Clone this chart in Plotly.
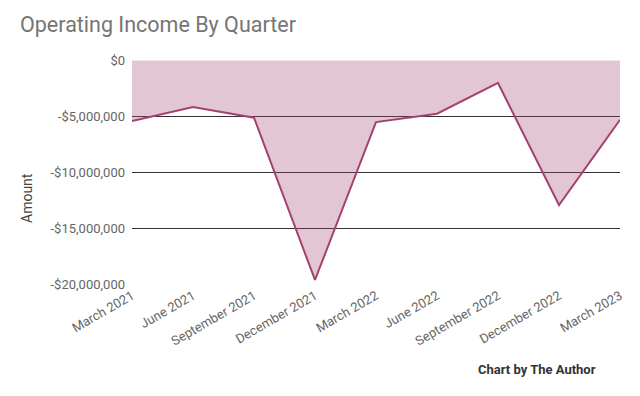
import plotly.graph_objects as go

quarters = ["March 2021", "June 2021", "September 2021", "December 2021", "March 2022",
            "June 2022", "September 2022", "December 2022", "March 2023"]
operating_income = [-5.4e6, -4.15e6, -5.1e6, -19.6e6, -5.5e6, -4.75e6, -2.0e6, -12.9e6, -5.3e6]
y_ticks = [0, -5e6, -10e6, -15e6, -20e6]
y_ticktext = ["$0" if v == 0 else "-${:,.0f}".format(abs(v)) for v in y_ticks]

L, R, T, B = 132, 620, 60, 285  # plot area in pixels

fig = go.Figure()
fig.add_trace(go.Scatter(
    x=quarters, y=operating_income, mode="lines", fill="tozeroy",
    fillcolor="rgba(163,66,111,0.3)",
    line=dict(color="#a3426f", width=2),
))

fig.update_layout(
    width=640, height=396,
    margin=dict(l=L, r=640 - R, t=T, b=396 - B),
    paper_bgcolor="white", plot_bgcolor="white",
    font=dict(family="Roboto", color="#666666", size=13),
    showlegend=False,
    title=dict(text="Operating Income By Quarter", x=20 / 640, xanchor="left", y=1 - 17 / 396, yanchor="top",
               font=dict(family="Roboto", size=21.5, color="#757575")),
    xaxis=dict(showgrid=False, tickangle=-30, ticks="", showline=False, zeroline=False,
               range=[0, len(quarters) - 1], tickfont=dict(size=13, color="#666666")),
    yaxis=dict(range=[-20.05e6, 0.05e6], tickvals=y_ticks, ticktext=y_ticktext,
               showgrid=True, gridcolor="#333333", gridwidth=1, zeroline=False,
               ticks="", ticklen=0, ticklabelstandoff=6, tickfont=dict(size=13, color="#666666")),
    annotations=[
        dict(text="<b>Chart by The Author</b>", xref="paper", yref="paper",
             x=(598 - L) / (R - L), y=-(369 - B) / (B - T),
             showarrow=False, xanchor="right", yanchor="middle",
             font=dict(family="Roboto", size=13, color="#333333")),
        dict(text="Amount", xref="paper", yref="paper", textangle=-90,
             x=(27 - L) / (R - L), y=(B - 198) / (B - T),
             showarrow=False, xanchor="center", yanchor="middle",
             font=dict(family="Roboto", size=14, color="#444444")),
    ],
)
fig.write_html("out.html")
